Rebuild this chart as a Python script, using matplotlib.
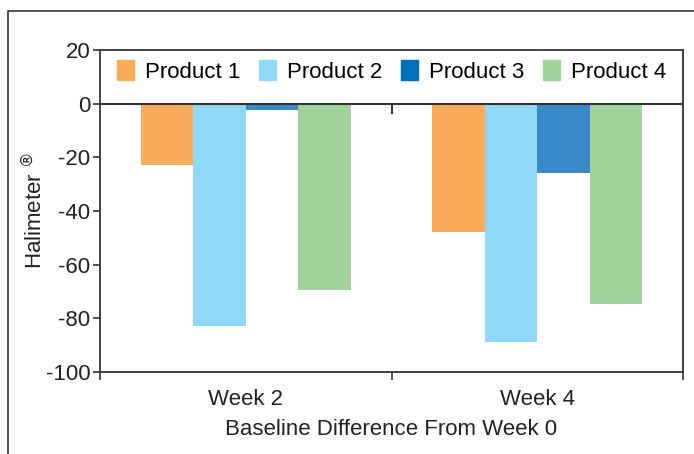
import numpy as np
import matplotlib.pyplot as plt
from matplotlib.patches import Patch, Rectangle

plt.rcParams['font.family'] = ['Liberation Sans', 'DejaVu Sans']

# data
weeks = ['Week 2', 'Week 4']
products = ['Product 1', 'Product 2', 'Product 3', 'Product 4']
product1 = [-23, -48]
product2 = [-83, -89]
product3 = [-2.5, -26]
product4 = [-69.5, -74.5]
yticks = [-100, -80, -60, -40, -20, 0, 20]

bar_colors = ['#FAAC5A', '#8FD8F7', '#3A88C6', '#A0D39C']
legend_colors = ['#FAAC5A', '#8FD8F7', '#0070BA', '#A0D39C']
series = [product1, product2, product3, product4]

fs = 16
fig = plt.figure(figsize=(6.94, 4.54), dpi=100)
ax = fig.add_axes([100 / 694, 1 - 372 / 454, 583 / 694, 322 / 454])

# outer frame of the figure panel
fig.patches.append(Rectangle((8 / 694, -0.1), 1.2, 1 - 11 / 454 + 0.1,
                             transform=fig.transFigure, fill=False,
                             edgecolor='#333333', linewidth=1.2))

x = np.arange(len(weeks))
width = 0.18
for i, (vals, c) in enumerate(zip(series, bar_colors)):
    ax.bar(x + (i - 1.5) * width, vals, width, color=c, linewidth=0)

ax.set_xlim(-0.5, 1.5)
ax.set_ylim(-100, 20)
ax.set_yticks(yticks)
ax.set_yticklabels([str(t) for t in yticks], fontsize=fs, color='#222222')
ax.set_xticks(x)
ax.set_xticklabels(weeks, fontsize=fs, color='#222222')
ax.tick_params(axis='x', length=0, pad=12)
ax.tick_params(axis='y', length=5, width=1.2, color='#333333', pad=2)

# category separators (ticks) on bottom and on the zero line
ax.set_xticks([-0.5, 0.5, 1.5], minor=True)
ax.tick_params(axis='x', which='minor', length=6, width=1.2, color='#333333')
ax.axhline(0, color='#333333', linewidth=1.5, zorder=3)
ax.plot([0.5, 0.5], [0, -3.5], color='#333333', linewidth=1.5, zorder=3)

for s in ax.spines.values():
    s.set_color('#333333')
    s.set_linewidth(1.3)

ax.set_xlabel('Baseline Difference From Week 0', fontsize=fs, color='#222222', labelpad=7)
ax.set_ylabel(r'Halimeter $^{\circledR}$', fontsize=fs, color='#222222')
ax.yaxis.set_label_coords(-54 / 583, 0.5)

handles = [Patch(color=c) for c in legend_colors]
ax.legend(handles, products, loc='upper center', bbox_to_anchor=(0.5, 1.03), ncol=4,
          frameon=False, fontsize=fs, handlelength=0.75, handleheight=1.0,
          handletextpad=0.5, columnspacing=0.85)

fig.savefig('out.png', dpi=100)
